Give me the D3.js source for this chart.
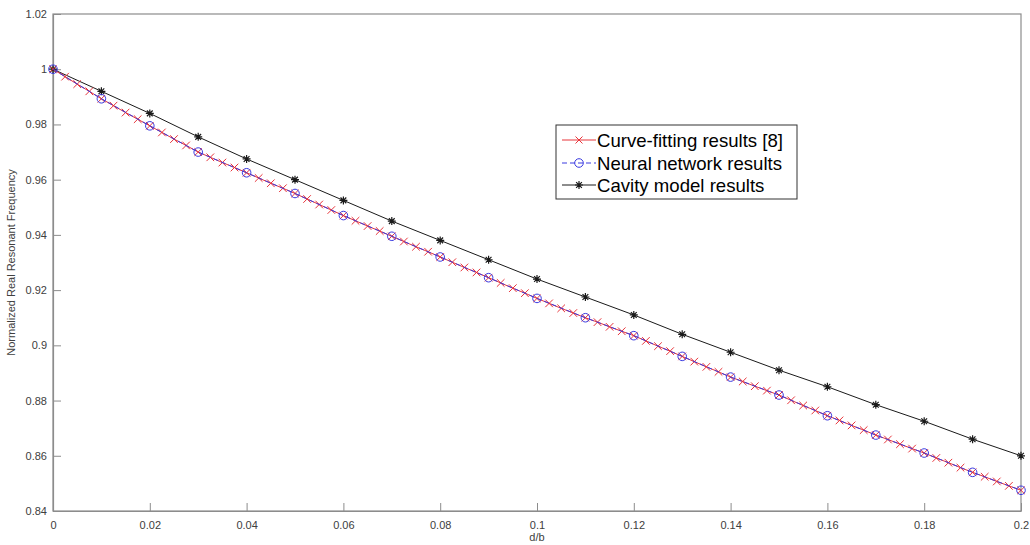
<!DOCTYPE html>
<html><head><meta charset="utf-8">
<script src="https://cdn.jsdelivr.net/npm/d3@7"></script>
<style>body{margin:0;background:#fff;} svg{display:block;font-family:"Liberation Sans",Arial,sans-serif;}</style>
</head><body>
<svg id="c" width="1030" height="545"></svg>
<script>
const curveX = d3.range(81).map(i => i * 0.0025);
const curveY = [
 1.0000,.9973,.9946,.9920,
 .9893,.9868,.9843,.9819,
 .9795,.9771,.9747,.9724,
 .9700,.9681,.9662,.9644,
 .9625,.9606,.9587,.9569,
 .9550,.9530,.9510,.9490,
 .9470,.9451,.9432,.9414,
 .9395,.9376,.9357,.9339,
 .9320,.9301,.9282,.9264,
 .9245,.9226,.9207,.9189,
 .9170,.9152,.9134,.9117,
 .9100,.9084,.9067,.9051,
 .9035,.9016,.8997,.8979,
 .8960,.8941,.8922,.8904,
 .8885,.8869,.8852,.8836,
 .8820,.8801,.8782,.8764,
 .8745,.8728,.8710,.8693,
 .8675,.8659,.8642,.8626,
 .8610,.8592,.8575,.8557,
 .8540,.8524,.8507,.8491,
 .8475];
const nnX = d3.range(21).map(i => i * 0.01);
const nnY = [1.0000,.9893,.9795,.9700,.9625,.9550,.9470,.9395,.9320,.9245,.9170,.9100,.9035,.8960,.8885,.8820,.8745,.8675,.8610,.8540,.8475];
const cavX = d3.range(21).map(i => i * 0.01);
const cavY = [1.0000,.9920,.9840,.9755,.9675,.9600,.9525,.9450,.9380,.9310,.9240,.9175,.9110,.9040,.8975,.8910,.8850,.8785,.8725,.8660,.8600];
const xTicks = [0,0.02,0.04,0.06,0.08,0.1,0.12,0.14,0.16,0.18,0.2];
const yTicks = [0.84,0.86,0.88,0.9,0.92,0.94,0.96,0.98,1,1.02];
const seriesNames = ["Curve-fitting results [8]","Neural network results","Cavity model results"];

const svg = d3.select("#c");
const L=53, R=1021, T=14, B=511;
const x = d3.scaleLinear().domain([0,0.2]).range([L,R]);
const y = d3.scaleLinear().domain([0.84,1.02]).range([B,T]);
const axisCol = "#8c8c8c", txtCol = "#404040";

svg.append("rect").attr("x",L).attr("y",T).attr("width",R-L).attr("height",B-T)
  .attr("fill","none").attr("stroke",axisCol).attr("stroke-width",1.2);

const xa = svg.append("g").attr("transform",`translate(0,${B})`)
  .call(d3.axisBottom(x).tickValues(xTicks).tickSizeInner(-8).tickSizeOuter(0).tickPadding(6)
  .tickFormat(d => d3.format("~g")(d)));
const ya = svg.append("g").attr("transform",`translate(${L},0)`)
  .call(d3.axisLeft(y).tickValues(yTicks).tickSizeInner(-8).tickSizeOuter(0).tickPadding(6)
  .tickFormat(d => d3.format("~g")(d)));
[xa,ya].forEach(a=>{
  a.select(".domain").attr("stroke",axisCol).attr("stroke-width",1.2);
  a.selectAll(".tick line").attr("stroke",axisCol);
  a.selectAll(".tick text").attr("fill",txtCol).attr("font-size",11).attr("font-family","Liberation Sans, Arial, sans-serif");
});
xa.selectAll(".tick text").attr("dy","1.1em");

svg.append("text").attr("x",(L+R)/2).attr("y",541).attr("text-anchor","middle")
  .attr("font-size",11).attr("fill",txtCol).text("d/b");
svg.append("text").attr("transform",`translate(15,${(T+B)/2}) rotate(-90)`).attr("text-anchor","middle")
  .attr("font-size",11).attr("fill",txtCol).text("Normalized Real Resonant Frequency");

const line = d3.line().x(d=>x(d[0])).y(d=>y(d[1]));
const curve = curveX.map((v,i)=>[v,curveY[i]]);
const nn = nnX.map((v,i)=>[v,nnY[i]]);
const cav = cavX.map((v,i)=>[v,cavY[i]]);

const red="#e8343a", blue="#3a3ae0", black="#1a1a1a";

function crossPath(cx,cy,s){return `M${cx-s},${cy-s}L${cx+s},${cy+s}M${cx-s},${cy+s}L${cx+s},${cy-s}`;}
function starPath(cx,cy,s){const d=s*0.72;return `M${cx-s},${cy}L${cx+s},${cy}M${cx},${cy-s}L${cx},${cy+s}M${cx-d},${cy-d}L${cx+d},${cy+d}M${cx-d},${cy+d}L${cx+d},${cy-d}`;}

svg.append("path").attr("d",line(cav)).attr("fill","none").attr("stroke",black).attr("stroke-width",1);
svg.append("g").selectAll("path").data(cav).join("path")
  .attr("d",d=>starPath(x(d[0]),y(d[1]),4)).attr("stroke",black).attr("stroke-width",1.2);

svg.append("path").attr("d",line(curve)).attr("fill","none").attr("stroke",red).attr("stroke-width",1);
svg.append("g").selectAll("path").data(curve).join("path")
  .attr("d",d=>crossPath(x(d[0]),y(d[1]),3.8)).attr("stroke",red).attr("stroke-width",1);

svg.append("path").attr("d",line(nn)).attr("fill","none").attr("stroke",blue).attr("stroke-width",1).attr("stroke-dasharray","5,3");
svg.append("g").selectAll("circle").data(nn).join("circle")
  .attr("cx",d=>x(d[0])).attr("cy",d=>y(d[1])).attr("r",4.3)
  .attr("fill","none").attr("stroke",blue).attr("stroke-width",1);

const lg = svg.append("g");
lg.append("rect").attr("x",556).attr("y",125).attr("width",241).attr("height",74)
  .attr("fill","#fff").attr("stroke","#333").attr("stroke-width",1);
const lx0=562, lx1=596;
const rows=[140,163,185];
lg.append("line").attr("x1",lx0).attr("x2",lx1).attr("y1",rows[0]).attr("y2",rows[0]).attr("stroke",red);
lg.append("path").attr("d",crossPath((lx0+lx1)/2,rows[0],3.5)).attr("stroke",red);
lg.append("line").attr("x1",lx0).attr("x2",lx1).attr("y1",rows[1]).attr("y2",rows[1]).attr("stroke",blue).attr("stroke-dasharray","5,3");
lg.append("circle").attr("cx",(lx0+lx1)/2).attr("cy",rows[1]).attr("r",4.3).attr("fill","none").attr("stroke",blue);
lg.append("line").attr("x1",lx0).attr("x2",lx1).attr("y1",rows[2]).attr("y2",rows[2]).attr("stroke",black);
lg.append("path").attr("d",starPath((lx0+lx1)/2,rows[2],4)).attr("stroke",black).attr("stroke-width",1.2);
seriesNames.forEach((n,i)=>{
  lg.append("text").attr("x",597).attr("y",rows[i]).attr("dy","0.36em").attr("font-size",18.6).attr("fill","#000").text(n);
});
</script>
</body></html>
